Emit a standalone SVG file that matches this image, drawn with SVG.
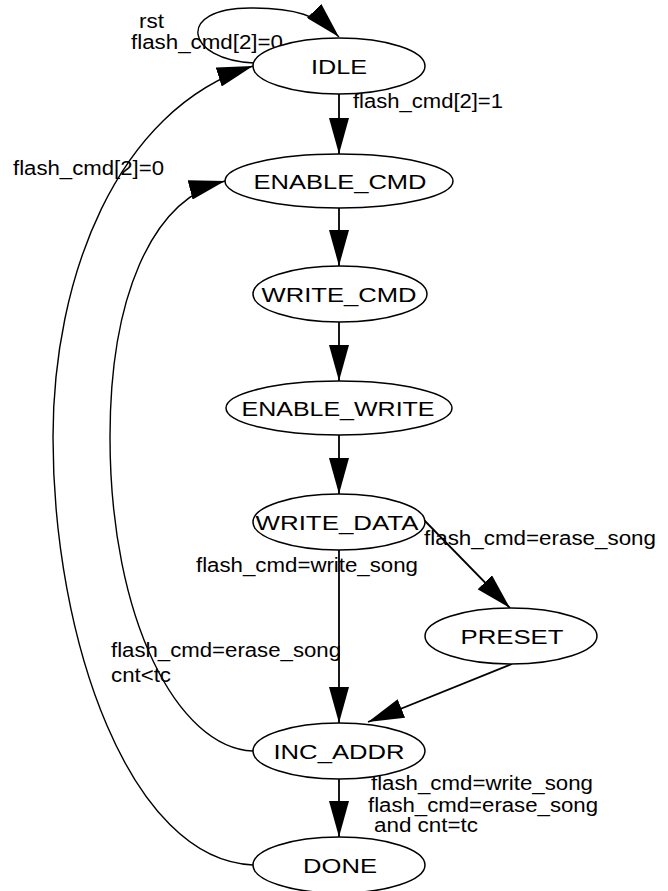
<svg xmlns="http://www.w3.org/2000/svg" width="668" height="891" viewBox="0 0 668 891">
  <style>
    .state { fill: #ffffff; stroke: #000000; stroke-width: 1.5; }
    .nlabel { font-family: "Liberation Sans", Arial, Helvetica, sans-serif; font-size: 20px; fill: #000000; text-anchor: middle; }
    .elabel { font-family: "Liberation Sans", Arial, Helvetica, sans-serif; font-size: 20px; fill: #000000; }
    .edge { fill: none; stroke: #000000; stroke-width: 1.8; marker-end: url(#arrow); }
    .curve { fill: none; stroke: #000000; stroke-width: 1.4; marker-end: url(#arrow); }
  </style>
  <defs>
    <marker id="arrow" viewBox="0 0 36 20" refX="36" refY="10" markerWidth="36" markerHeight="20" markerUnits="userSpaceOnUse" orient="auto">
      <path d="M0,0 L36,10 L0,20 Z" fill="#000000"/>
    </marker>
  </defs>
  <rect width="668" height="891" fill="#ffffff"/>

  <!-- transitions -->
  <g id="connectors">
    <!-- reset self loop on IDLE -->
    <path class="curve" d="M254,63 C185,60 175,8 250,8 C295,8 318,15 339,37"/>
    <path class="edge" d="M339,94 L339,154"/>
    <path class="edge" d="M339,208 L339,266"/>
    <path class="edge" d="M339,322 L339,381"/>
    <path class="edge" d="M339,435 L339,494"/>
    <path class="edge" d="M339,550 L339,723"/>
    <path class="edge" d="M424,520 L510,608"/>
    <path class="edge" d="M512,664 L368,722"/>
    <path class="edge" d="M339,779 L339,837"/>
    <!-- DONE back to IDLE -->
    <path class="curve" d="M253,865 C130,860 53,640 53,437 C53,280 115,110 253,66"/>
    <!-- INC_ADDR back to ENABLE_CMD -->
    <path class="curve" d="M253,751 C178,748 110,620 110,437 C110,300 150,200 225,181"/>
  </g>

  <!-- transition conditions -->
  <g id="edge-labels">
    <text class="elabel" x="139" y="28" textLength="25" lengthAdjust="spacingAndGlyphs">rst</text>
    <text class="elabel" x="131" y="49" textLength="152" lengthAdjust="spacingAndGlyphs">flash_cmd[2]=0</text>
    <text class="elabel" x="353" y="108" textLength="150" lengthAdjust="spacingAndGlyphs">flash_cmd[2]=1</text>
    <text class="elabel" x="13" y="175" textLength="151" lengthAdjust="spacingAndGlyphs">flash_cmd[2]=0</text>
    <text class="elabel" x="424" y="545" textLength="232" lengthAdjust="spacingAndGlyphs">flash_cmd=erase_song</text>
    <text class="elabel" x="196" y="572" textLength="222" lengthAdjust="spacingAndGlyphs">flash_cmd=write_song</text>
    <text class="elabel" x="111" y="657" textLength="230" lengthAdjust="spacingAndGlyphs">flash_cmd=erase_song</text>
    <text class="elabel" x="111" y="682" textLength="60" lengthAdjust="spacingAndGlyphs">cnt&lt;tc</text>
    <text class="elabel" x="371" y="790" textLength="222" lengthAdjust="spacingAndGlyphs">flash_cmd=write_song</text>
    <text class="elabel" x="368" y="812" textLength="230" lengthAdjust="spacingAndGlyphs">flash_cmd=erase_song</text>
    <text class="elabel" x="374" y="832" textLength="104" lengthAdjust="spacingAndGlyphs">and cnt=tc</text>
  </g>

  <!-- states -->
  <g id="IDLE">
    <ellipse class="state" cx="339" cy="66" rx="86" ry="28"/>
    <text class="nlabel" x="339" y="74" textLength="56" lengthAdjust="spacingAndGlyphs">IDLE</text>
  </g>
  <g id="ENABLE_CMD">
    <ellipse class="state" cx="339" cy="181" rx="114" ry="27"/>
    <text class="nlabel" x="340" y="189" textLength="173" lengthAdjust="spacingAndGlyphs">ENABLE_CMD</text>
  </g>
  <g id="WRITE_CMD">
    <ellipse class="state" cx="340" cy="294" rx="87" ry="28"/>
    <text class="nlabel" x="339" y="302" textLength="155" lengthAdjust="spacingAndGlyphs">WRITE_CMD</text>
  </g>
  <g id="ENABLE_WRITE">
    <ellipse class="state" cx="339" cy="408" rx="113" ry="27"/>
    <text class="nlabel" x="338" y="416" textLength="193" lengthAdjust="spacingAndGlyphs">ENABLE_WRITE</text>
  </g>
  <g id="WRITE_DATA">
    <ellipse class="state" cx="339" cy="522" rx="86" ry="28"/>
    <text class="nlabel" x="337" y="530" textLength="163" lengthAdjust="spacingAndGlyphs">WRITE_DATA</text>
  </g>
  <g id="PRESET">
    <ellipse class="state" cx="511" cy="636" rx="86" ry="28"/>
    <text class="nlabel" x="512" y="644" textLength="103" lengthAdjust="spacingAndGlyphs">PRESET</text>
  </g>
  <g id="INC_ADDR">
    <ellipse class="state" cx="339" cy="751" rx="86" ry="28"/>
    <text class="nlabel" x="339" y="759" textLength="131" lengthAdjust="spacingAndGlyphs">INC_ADDR</text>
  </g>
  <g id="DONE">
    <ellipse class="state" cx="339" cy="865" rx="86" ry="28"/>
    <text class="nlabel" x="340" y="873" textLength="74" lengthAdjust="spacingAndGlyphs">DONE</text>
  </g>
</svg>
